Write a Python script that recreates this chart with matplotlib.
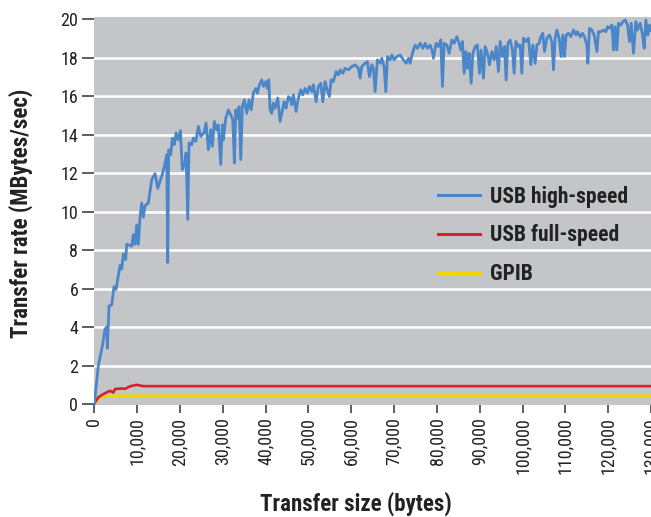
import numpy as np
import matplotlib
matplotlib.use("Agg")
import matplotlib.pyplot as plt
from matplotlib import font_manager
from matplotlib.ticker import FuncFormatter

# pick a condensed face if one is around
names = {f.name for f in font_manager.fontManager.ttflist}
cond = next((n for n in ['Liberation Sans Narrow', 'DejaVu Sans Condensed', 'Roboto Condensed',
                         'Open Sans Condensed', 'Liberation Sans'] if n in names), 'DejaVu Sans')
plt.rcParams['font.family'] = [cond, 'DejaVu Sans']

# data: transfer size (bytes), rate (MBytes/sec)
hs_size = [0, 940, 1870, 2500, 2900, 3040, 3430, 4060, 4600, 5070, 6000, 6400, 6780, 7330, 7560,
           8730, 9110, 9500, 9900, 10280, 10680, 11070, 11450, 11840, 12610, 13400, 14180, 14800,
           15970, 16500, 16910, 17140, 17370, 17840, 18220, 18690, 19080, 19620, 20090, 20560,
           21190, 21420, 21820, 22120, 22750, 23130, 23690, 24300, 24850, 25620, 26090, 26630,
           27190, 27560, 28030, 28590, 28960, 29520, 29900, 30130, 30690, 31300, 31860, 32330,
           32710, 33020, 33400, 33800, 34200, 34570, 35040, 35600, 36140, 36610, 37140, 37700,
           38080, 38550, 39110, 39480, 40040, 40410, 40740, 41040, 41440, 41810, 42210, 42840,
           43380, 43920, 44320, 44780, 45320, 45720, 46110, 46490, 47120, 47650, 48210, 48680,
           49220, 49760, 50230, 50790, 51160, 51790, 52320, 52890, 53360, 53890, 54290, 54900,
           55290, 55830, 56460, 57000, 57390, 58020, 58560, 59340, 60130, 60900, 61670, 62070,
           62460, 63240, 63770, 64240, 64800, 65180, 65570, 66110, 66740, 67140, 67670, 68070,
           68450, 69080, 69470, 70010, 70640, 71410, 72180, 72810, 73350, 73750, 74280, 74910,
           75450, 76080, 76710, 77250, 77790, 78420, 78960, 79190, 79820, 80360, 80920, 81290,
           81690, 82320, 82860, 83490, 84030, 84660, 85200, 85590, 85970, 86360, 86760, 87130,
           87530, 88000, 88400, 88930, 89470, 89940, 90330, 90870, 91270, 91810, 92270, 92830,
           93370, 93840, 94370, 94770, 95310, 95780, 96170, 96570, 97110, 97640, 98040, 98430,
           99050, 99440, 99840, 100210, 100850, 101380, 101940, 102410, 102950, 103350, 103880,
           104280, 104750, 105120, 105680, 106290, 106850, 107230, 107620, 108010, 108550,
           109020, 109410, 109790, 110190, 110730, 111290, 111900, 112460, 112830, 113460,
           114000, 114460, 115020, 115260, 115630, 116190, 116730, 117360, 117730, 118290,
           118900, 119460, 119840, 120310, 120870, 121240, 121640, 122030, 122410, 122970,
           123440, 123970, 124510, 124980, 125380, 125910, 126470, 126840, 127480, 128010,
           128410, 128800, 129270, 129640, 130000]
hs_rate = [0, 2.0, 3.0, 3.9, 4.0, 2.9, 5.1, 5.15, 6.1, 5.95, 7.2, 7.0, 7.8, 7.5, 8.3,
           8.2, 8.8, 8.3, 9.3, 8.3, 9.75, 10.45, 9.7, 10.3, 10.45, 11.65, 11.97, 11.2,
           12.0, 12.5, 12.95, 7.35, 13.2, 12.95, 13.8, 13.47, 14.08, 13.73, 14.2, 12.18,
           12.6, 13.04, 9.59, 13.56, 13.47, 13.82, 13.64, 14.42, 13.9, 14.08, 14.6, 13.21,
           14.25, 13.38, 14.68, 14.25, 14.5, 12.44, 14.5, 13.73, 14.85, 15.28, 15.03, 14.77,
           12.52, 15.28, 14.85, 15.45, 12.7, 15.45, 15.8, 15.1, 15.8, 15.28, 16.15, 16.4,
           16.15, 16.58, 16.84, 16.5, 16.75, 16.4, 16.84, 15.28, 15.1, 15.63, 15.37, 15.9,
           14.68, 15.28, 15.7, 15.37, 15.97, 15.9, 15.54, 16.06, 15.2, 15.9, 16.32, 16.06,
           16.4, 16.15, 16.5, 16.23, 16.58, 15.7, 16.5, 16.66, 15.7, 16.75, 16.4, 15.97,
           16.84, 16.75, 17.27, 17.1, 17.36, 17.18, 17.44, 17.36, 17.53, 17.62, 17.44, 16.93,
           17.53, 17.7, 17.79, 17.01, 17.62, 17.44, 16.23, 17.88, 17.7, 17.96, 17.53, 16.23,
           18.05, 17.88, 18.13, 17.88, 18.05, 18.13, 17.88, 17.7, 17.96, 17.7, 18.22, 18.65,
           18.48, 18.74, 18.48, 18.74, 18.48, 18.65, 18.31, 17.96, 18.74, 18.57, 18.91, 16.5,
           18.74, 18.65, 18.22, 18.91, 18.74, 19.08, 18.74, 18.39, 18.83, 17.18, 18.31, 17.44,
           18.22, 16.66, 18.22, 18.57, 18.65, 17.18, 18.39, 16.93, 18.57, 18.22, 17.62, 18.31,
           17.88, 18.57, 17.27, 18.83, 18.05, 18.57, 16.84, 18.74, 18.91, 18.39, 17.18, 18.83,
           18.57, 18.65, 17.18, 19.0, 18.83, 19.0, 17.62, 18.65, 17.7, 18.65, 18.74,
           19.08, 19.26, 18.31, 19.0, 19.17, 18.83, 17.36, 19.0, 19.43, 19.0,
           18.05, 19.17, 18.05, 19.17, 19.26, 19.08, 19.43, 19.17, 19.34, 19.08,
           19.26, 19.08, 18.65, 17.7, 19.52, 19.43, 19.17, 18.31, 19.34, 19.34,
           19.43, 19.34, 19.6, 19.52, 19.69, 18.39, 19.6, 18.39, 19.78, 19.69,
           19.86, 19.95, 19.69, 18.83, 19.78, 18.22, 19.86, 19.43, 19.78, 19.17,
           18.48, 19.95, 19.17, 19.69, 19.4]

fs_size = [0, 163, 935, 2100, 3670, 4440, 4840, 6400, 7200, 8340, 9900, 11450, 130000]
fs_rate = [0, 0.09, 0.35, 0.52, 0.69, 0.6, 0.78, 0.81, 0.79, 0.92, 1.0, 0.93, 0.93]

gpib_size = [0, 560, 1330, 2500, 4000, 130000]
gpib_rate = [0, 0.17, 0.35, 0.40, 0.43, 0.43]

y_ticks = [0, 2, 4, 6, 8, 10, 12, 14, 16, 18, 20]
x_ticks = list(range(0, 130001, 10000))

fig = plt.figure(figsize=(6.51, 5.17), dpi=100)
ax = fig.add_axes([0.1449, 0.2166, 0.8551, 0.7511])
ax.set_facecolor('#c4c5c8')

for g in y_ticks[1:-1]:
    ax.axhline(g, color='white', lw=1.8, zorder=1)

ax.plot(gpib_size, gpib_rate, color='#f5d400', lw=2.0, label='GPIB', zorder=3)
ax.plot(fs_size, fs_rate, color='#d7202b', lw=1.9, label='USB full-speed', zorder=4)
ax.plot(hs_size, hs_rate, color='#4a86c8', lw=2.0, label='USB high-speed', zorder=5)

ax.set_xlim(0, 130000)
ax.set_ylim(-0.05, 20.12)
ax.set_yticks(y_ticks)
ax.set_xticks(x_ticks)
ax.xaxis.set_major_formatter(FuncFormatter(lambda v, p: f'{int(v):,}'))
for lab in ax.get_xticklabels():
    lab.set_rotation(90)

for s in ax.spines.values():
    s.set_visible(False)
ax.tick_params(axis='y', length=8.5, width=1.1, color='#333333', pad=3, labelsize=13,
               labelcolor='#222222')
ax.tick_params(axis='x', length=6, width=1.1, color='#333333', pad=3, labelsize=13,
               labelcolor='#222222')

ax.set_ylabel('Transfer rate (MBytes/sec)', fontsize=16.5, fontweight='bold',
              color='#222222')
ax.set_xlabel('Transfer size (bytes)', fontsize=16.5, fontweight='bold', color='#222222')
ax.yaxis.set_label_coords(-0.11, 0.494)
ax.xaxis.set_label_coords(0.47, -0.222)

h, l = ax.get_legend_handles_labels()
order = [2, 1, 0]
leg = ax.legend([h[i] for i in order], [l[i] for i in order], frameon=False,
                loc='upper left', bbox_to_anchor=(0.618, 0.565), borderpad=0,
                borderaxespad=0, fontsize=15.5, handlelength=1.95, handletextpad=0.45,
                labelspacing=0.78)
for t in leg.get_texts():
    t.set_fontweight('bold')
    t.set_color('#222222')
for ln in leg.get_lines():
    ln.set_linewidth(2.2)

fig.savefig('out.png', dpi=100)
